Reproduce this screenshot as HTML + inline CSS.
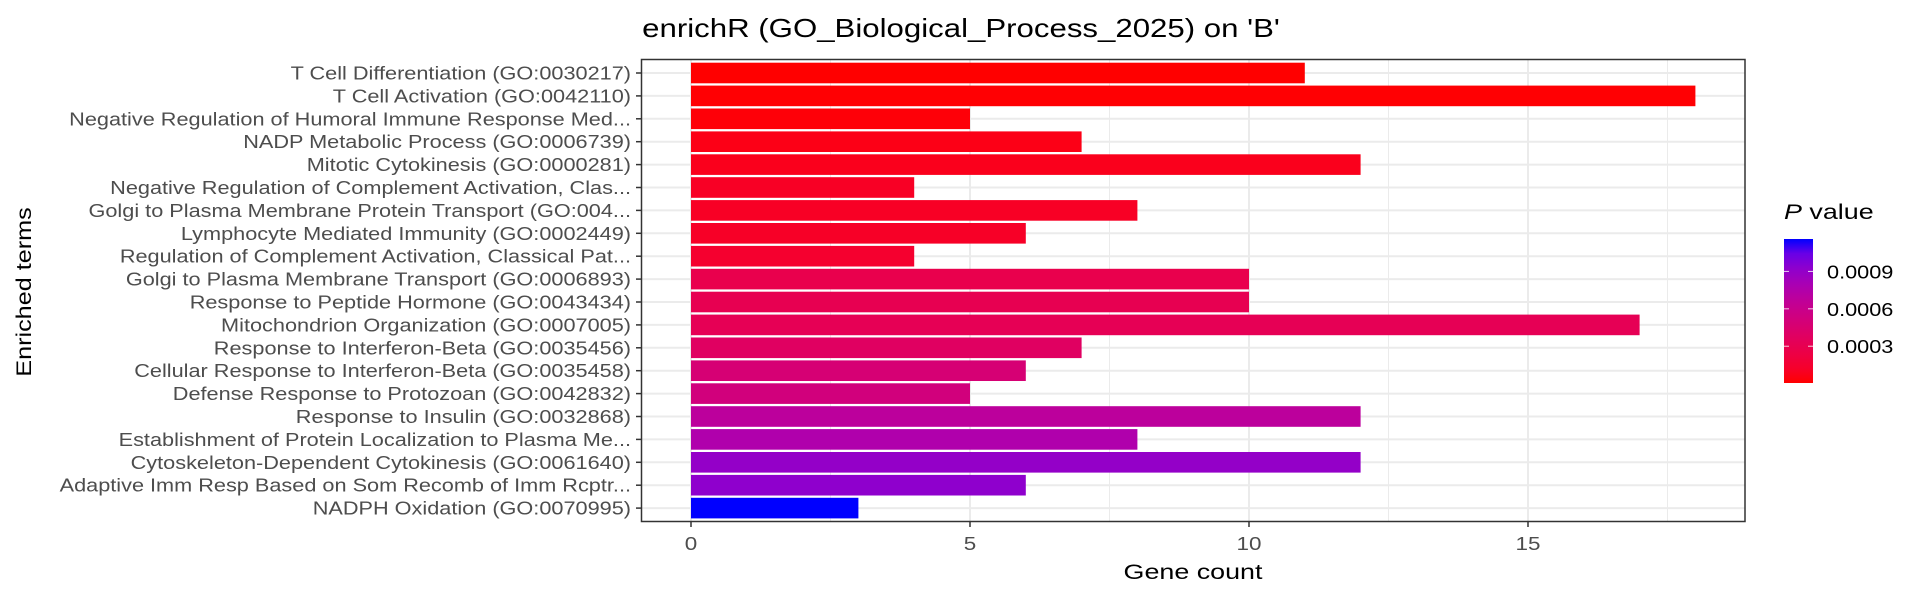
<!DOCTYPE html>
<html><head><meta charset="utf-8"><style>
html,body{margin:0;padding:0;background:#fff;}
svg text{font-family:"Liberation Sans",Arial,sans-serif;}
</style></head><body>
<svg id="chart" width="1920" height="600" viewBox="0 0 1920 600" xmlns="http://www.w3.org/2000/svg">
<rect width="1920" height="600" fill="#fff"/>
<text transform="translate(961,37) scale(1.2,1)" text-anchor="middle" font-size="26" fill="#000">enrichR (GO_Biological_Process_2025) on 'B'</text>
<g id="grid"></g><g id="bars"></g><g id="yaxis"></g><g id="xaxis"></g>
<rect x="641.5" y="59.5" width="1103.5" height="462" fill="none" stroke="#333" stroke-width="1.5"/>
<text transform="translate(1193,579) scale(1.28,1)" text-anchor="middle" font-size="21" fill="#000">Gene count</text>
<text transform="translate(31,292) rotate(-90) scale(1.2,1)" text-anchor="middle" font-size="21" fill="#000">Enriched terms</text>
<g>
<text transform="translate(1784,219) scale(1.28,1)" font-size="21" fill="#000"><tspan font-style="italic">P</tspan> value</text>
<defs><linearGradient id="lg" x1="0" y1="1" x2="0" y2="0"></linearGradient></defs>
<rect x="1784" y="239" width="29" height="144" fill="url(#lg)"/>
<g id="legendTicks"></g>
</g>
</svg>
<script>
const terms=["T Cell Differentiation (GO:0030217)","T Cell Activation (GO:0042110)","Negative Regulation of Humoral Immune Response Med...","NADP Metabolic Process (GO:0006739)","Mitotic Cytokinesis (GO:0000281)","Negative Regulation of Complement Activation, Clas...","Golgi to Plasma Membrane Protein Transport (GO:004...","Lymphocyte Mediated Immunity (GO:0002449)","Regulation of Complement Activation, Classical Pat...","Golgi to Plasma Membrane Transport (GO:0006893)","Response to Peptide Hormone (GO:0043434)","Mitochondrion Organization (GO:0007005)","Response to Interferon-Beta (GO:0035456)","Cellular Response to Interferon-Beta (GO:0035458)","Defense Response to Protozoan (GO:0042832)","Response to Insulin (GO:0032868)","Establishment of Protein Localization to Plasma Me...","Cytoskeleton-Dependent Cytokinesis (GO:0061640)","Adaptive Imm Resp Based on Som Recomb of Imm Rcptr...","NADPH Oxidation (GO:0070995)"];
const counts=[11,18,5,7,12,4,8,6,4,10,10,17,7,6,5,12,8,12,6,3];
const pvalues=[0.000005,0.00001,0.00002,0.00005,0.00007,0.0001,0.0001,0.00011,0.00014,0.00028,0.0003,0.00032,0.00038,0.00048,0.00052,0.00068,0.00076,0.0009,0.00092,0.00116];
const xTicks=[0,5,10,15];
const xMinor=[2.5,7.5,12.5,17.5];
const legendTicks=[0.0003,0.0006,0.0009];

const NS="http://www.w3.org/2000/svg";
function mk(tag,attrs,parent){const e=document.createElementNS(NS,tag);for(const k in attrs)e.setAttribute(k,attrs[k]);parent.appendChild(e);return e;}
const x0=691, ppu=55.8;
const xs=v=>x0+v*ppu;
const yTop=73, step=22.9;
const ys=i=>yTop+i*step;
const pMin=Math.min(...pvalues), pMax=Math.max(...pvalues);
function toLin(c){c/=255;return c<=0.04045?c/12.92:Math.pow((c+0.055)/1.055,2.4);}
function fromLin(c){c=c<=0.0031308?12.92*c:1.055*Math.pow(c,1/2.4)-0.055;return Math.max(0,Math.min(255,Math.round(c*255)));}
function rgb2lab(r,g,b){r=toLin(r);g=toLin(g);b=toLin(b);let X=(r*0.4124+g*0.3576+b*0.1805)/0.95047,Y=r*0.2126+g*0.7152+b*0.0722,Z=(r*0.0193+g*0.1192+b*0.9505)/1.08883;const f=t=>t>0.008856?Math.cbrt(t):7.787*t+16/116;X=f(X);Y=f(Y);Z=f(Z);return[116*Y-16,500*(X-Y),200*(Y-Z)];}
function lab2rgb(L,a,b){let Y=(L+16)/116,X=a/500+Y,Z=Y-b/200;const fi=t=>t*t*t>0.008856?t*t*t:(t-16/116)/7.787;X=fi(X)*0.95047;Y=fi(Y);Z=fi(Z)*1.08883;const r=X*3.2406+Y*-1.5372+Z*-0.4986,g=X*-0.9689+Y*1.8758+Z*0.0415,bb=X*0.0557+Y*-0.2040+Z*1.0570;return`rgb(${fromLin(r)},${fromLin(g)},${fromLin(bb)})`;}
const LR=rgb2lab(255,0,0), LB=rgb2lab(0,0,255);
function col(t){t=Math.max(0,Math.min(1,t));return lab2rgb(LR[0]+(LB[0]-LR[0])*t,LR[1]+(LB[1]-LR[1])*t,LR[2]+(LB[2]-LR[2])*t);}
const pcol=p=>col((p-pMin)/(pMax-pMin));

const grid=document.getElementById('grid');
xMinor.forEach(v=>{const l=mk('line',{x1:xs(v),x2:xs(v),y1:59.5,y2:521.5,stroke:'#ebebeb','stroke-width':1},grid);

});
xTicks.forEach(v=>{const l=mk('line',{x1:xs(v),x2:xs(v),y1:59.5,y2:521.5,stroke:'#ebebeb','stroke-width':2},grid);

});
terms.forEach((t,i)=>{const l=mk('line',{x1:641.5,x2:1745,y1:ys(i),y2:ys(i),stroke:'#ebebeb','stroke-width':2},grid);

});

const bars=document.getElementById('bars'), ya=document.getElementById('yaxis');
const bh=step*0.9;
terms.forEach((t,i)=>{
 const r=mk('rect',{x:xs(0),y:ys(i)-bh/2,width:xs(counts[i])-xs(0),height:bh,fill:pcol(pvalues[i])},bars);
 
 
 const tk=mk('line',{x1:636,x2:641,y1:ys(i),y2:ys(i),stroke:'#333','stroke-width':1.5},ya);
 
 
 const tx=mk('text',{transform:`translate(631,${ys(i)+6.5}) scale(1.16,1)`,'text-anchor':'end','font-size':'18.7',fill:'#4d4d4d'},ya);
 tx.textContent=t;
 
 
});
const xa=document.getElementById('xaxis');
xTicks.forEach(v=>{
 const tk=mk('line',{x1:xs(v),x2:xs(v),y1:521.5,y2:527,stroke:'#333','stroke-width':1.5},xa);
 
 
 const tx=mk('text',{transform:`translate(${xs(v)},550) scale(1.2,1)`,'text-anchor':'middle','font-size':'18.7',fill:'#4d4d4d'},xa);
 tx.textContent=String(v);
 
 
});
const lg=document.getElementById('lg');
for(let k=0;k<=10;k++){mk('stop',{offset:k/10,'stop-color':col(k/10)},lg);}
const lt=document.getElementById('legendTicks');
const ly=p=>383-(p-pMin)/(pMax-pMin)*144;
legendTicks.forEach(p=>{
 const a=mk('line',{x1:1784,x2:1789,y1:ly(p),y2:ly(p),stroke:'#fff','stroke-width':1,'stroke-opacity':0.8},lt);
 
 
 const b=mk('line',{x1:1808,x2:1813,y1:ly(p),y2:ly(p),stroke:'#fff','stroke-width':1,'stroke-opacity':0.8},lt);
 
 
 const tx=mk('text',{transform:`translate(1827,${ly(p)+7}) scale(1.16,1)`,'font-size':'18.7',fill:'#000'},lt);
 tx.textContent=p.toFixed(4);
 
 
});
</script>
</body></html>
